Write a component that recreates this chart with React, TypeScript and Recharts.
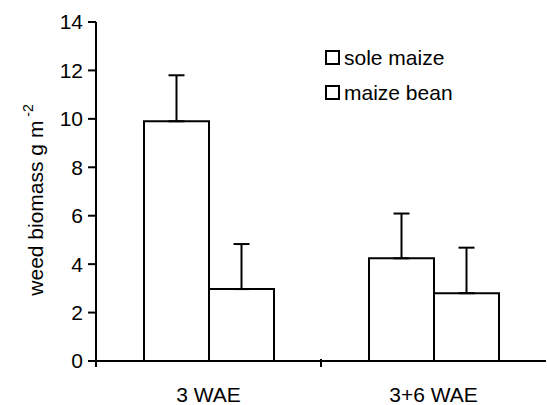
import React from "react";
import { BarChart, Bar, XAxis, YAxis, ErrorBar } from "recharts";

const categories = ["3 WAE", "3+6 WAE"];
const seriesNames = ["sole maize", "maize bean"];
const soleMaize = [9.9, 4.24];
const maizeBean = [2.97, 2.8];
const soleMaizeErr = [1.9, 1.85];
const maizeBeanErr = [1.86, 1.88];
const yTicks = [0, 2, 4, 6, 8, 10, 12, 14];

const data = categories.map((c, i) => ({
  name: c,
  sole: soleMaize[i],
  bean: maizeBean[i],
  soleErr: [0, soleMaizeErr[i]],
  beanErr: [0, maizeBeanErr[i]],
}));

const W = 547;
const H = 405;
const margin = { top: 22, right: 1, bottom: 0, left: 36 };
const yAxisWidth = 60;
const halfBand = (W - margin.left - margin.right - yAxisWidth) / categories.length / 2;
const font = "'Liberation Sans', Arial, sans-serif";
const fs = 21;

function XTick(props: any) {
  const { x, y, payload } = props;
  return (
    <g>
      <line x1={x - halfBand} y1={y - 10} x2={x - halfBand} y2={y - 2} stroke="#000" strokeWidth={2} />
      <text x={x} y={y + 33} textAnchor="middle" fontSize={fs} fontFamily={font} fill="#000">
        {payload.value}
      </text>
    </g>
  );
}

function YLabel() {
  const cx = 43;
  const cy = 200;
  return (
    <text
      x={cx}
      y={cy}
      transform={`rotate(-90 ${cx} ${cy})`}
      textAnchor="middle"
      fontSize={fs}
      fontFamily={font}
      fill="#000"
    >
      weed biomass g m
      <tspan fontSize={14} dy={-10}>
        {" -2"}
      </tspan>
    </text>
  );
}

export default function App() {
  return (
    <div style={{ position: "absolute", left: 0, top: 0, width: W, height: H, background: "#fff" }}>
      <BarChart width={W} height={H} data={data} margin={margin} barGap={0} barSize={65}>
        <XAxis
          dataKey="name"
          axisLine={{ stroke: "#000", strokeWidth: 2 }}
          tickLine={false}
          tick={<XTick />}
          height={44}
          interval={0}
        />
        <YAxis
          domain={[0, 14]}
          ticks={yTicks}
          width={yAxisWidth}
          axisLine={{ stroke: "#000", strokeWidth: 2 }}
          tickLine={{ stroke: "#000", strokeWidth: 2 }}
          tickSize={8}
          tickMargin={5}
          tick={{ fill: "#000", fontSize: fs, fontFamily: font }}
          label={<YLabel />}
        />
        <Bar dataKey="sole" name={seriesNames[0]} fill="#fff" stroke="#000" strokeWidth={2} isAnimationActive={false}>
          <ErrorBar dataKey="soleErr" direction="y" width={8} stroke="#000" strokeWidth={2} />
        </Bar>
        <Bar dataKey="bean" name={seriesNames[1]} fill="#fff" stroke="#000" strokeWidth={2} isAnimationActive={false}>
          <ErrorBar dataKey="beanErr" direction="y" width={8} stroke="#000" strokeWidth={2} />
        </Bar>
      </BarChart>
      <div
        style={{
          position: "absolute",
          left: 325,
          top: 40,
          fontFamily: font,
          fontSize: fs,
          color: "#000",
        }}
      >
        {seriesNames.map((n) => (
          <div key={n} style={{ display: "flex", alignItems: "center", height: 35 }}>
            <span
              style={{
                display: "inline-block",
                width: 11,
                height: 11,
                border: "2px solid #000",
                marginRight: 4,
              }}
            />
            {n}
          </div>
        ))}
      </div>
    </div>
  );
}
